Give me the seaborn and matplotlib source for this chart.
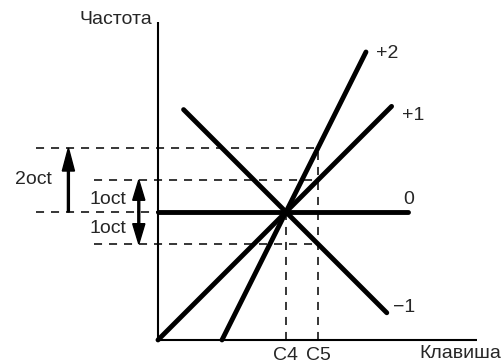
import numpy as np
import pandas as pd
import seaborn as sns
import matplotlib.pyplot as plt

# keyboard-tracking lines: frequency (octaves) vs key (octaves from C4)
slopes = [2, 1, 0, -1]
line_labels = ['+2', '+1', '0', '\u22121']
key_start = [-2.0, -4.0, -4.0, -3.2]
key_end = [2.5, 3.3, 3.8, 3.15]

# note ticks on the key axis
note_keys = [0, 1]
note_labels = ['C4', 'C5']

# octave guide levels at C5
octave_levels = [2, 1, 0, -1]

sns.set_theme(style='white')
plt.rcParams['font.family'] = ['Liberation Sans', 'DejaVu Sans']
plt.rcParams['lines.scale_dashes'] = False

fig = plt.figure(figsize=(5.01, 3.63), dpi=100)
ax = fig.add_axes([0, 0, 1, 1])
ax.set_xlim(-8.9375, 6.72)
ax.set_ylim(-4.72, 6.625)
ax.axis('off')

dash = (0, (5.8, 5.0))
lw_d = 1.1

# horizontal guides
guide_left = {2: -7.8, 1: -6.0, 0: -7.8, -1: -6.0}
for lev in octave_levels:
    right = -4.0 if lev == 0 else note_keys[1]
    ax.plot([guide_left[lev], right], [lev, lev], color='black', lw=lw_d, linestyle=dash)
# vertical guides
ax.plot([note_keys[0]] * 2, [-4, 0], color='black', lw=lw_d, linestyle=dash)
ax.plot([note_keys[1]] * 2, [-4, 2], color='black', lw=lw_d, linestyle=dash)

# main lines
rows = []
for s, lab, a, b in zip(slopes, line_labels, key_start, key_end):
    for k in (a, b):
        rows.append({'key': k, 'freq': s * k, 'line': lab})
df = pd.DataFrame(rows)
sns.lineplot(data=df, x='key', y='freq', units='line', estimator=None,
             color='black', lw=3.5, ax=ax, legend=False,
             solid_capstyle='round')

# axes
ax.plot([-4, -4], [-4, 5.94], color='black', lw=1.5, solid_capstyle='butt')
ax.plot([-4, 5.97], [-4, -4], color='black', lw=1.5, solid_capstyle='butt')

fs = 14
ax.text(-4.19, 6.0, 'Частота', ha='right', va='center', fontsize=fs)
ax.text(6.72, -4.42, 'Клавиша', ha='right', va='center', fontsize=fs)
for k, lab in zip(note_keys, note_labels):
    ax.text(k, -4.47, lab, ha='center', va='center', fontsize=fs)

label_pos = [(2.81, 4.94), (3.63, 3.0), (3.66, 0.38), (3.34, -2.97)]
for (x, y), lab in zip(label_pos, line_labels):
    ax.text(x, y, lab, ha='left', va='center', fontsize=fs)

# octave arrows
hw, hl = 0.38, 0.72
ax.arrow(-6.8, 0, 0, 2, width=0.06, head_width=hw, head_length=hl,
         length_includes_head=True, color='black')
ax.arrow(-4.6, 0, 0, 1, width=0.06, head_width=hw, head_length=hl * 0.88,
         length_includes_head=True, color='black')
ax.arrow(-4.6, 0, 0, -1, width=0.06, head_width=hw, head_length=hl * 0.88,
         length_includes_head=True, color='black')
ax.text(-7.9, 1.03, '2oct', ha='center', va='center', fontsize=fs)
ax.text(-5.0, 0.38, '1oct', ha='right', va='center', fontsize=fs)
ax.text(-5.0, -0.53, '1oct', ha='right', va='center', fontsize=fs)

fig.savefig('out.png', dpi=100)
